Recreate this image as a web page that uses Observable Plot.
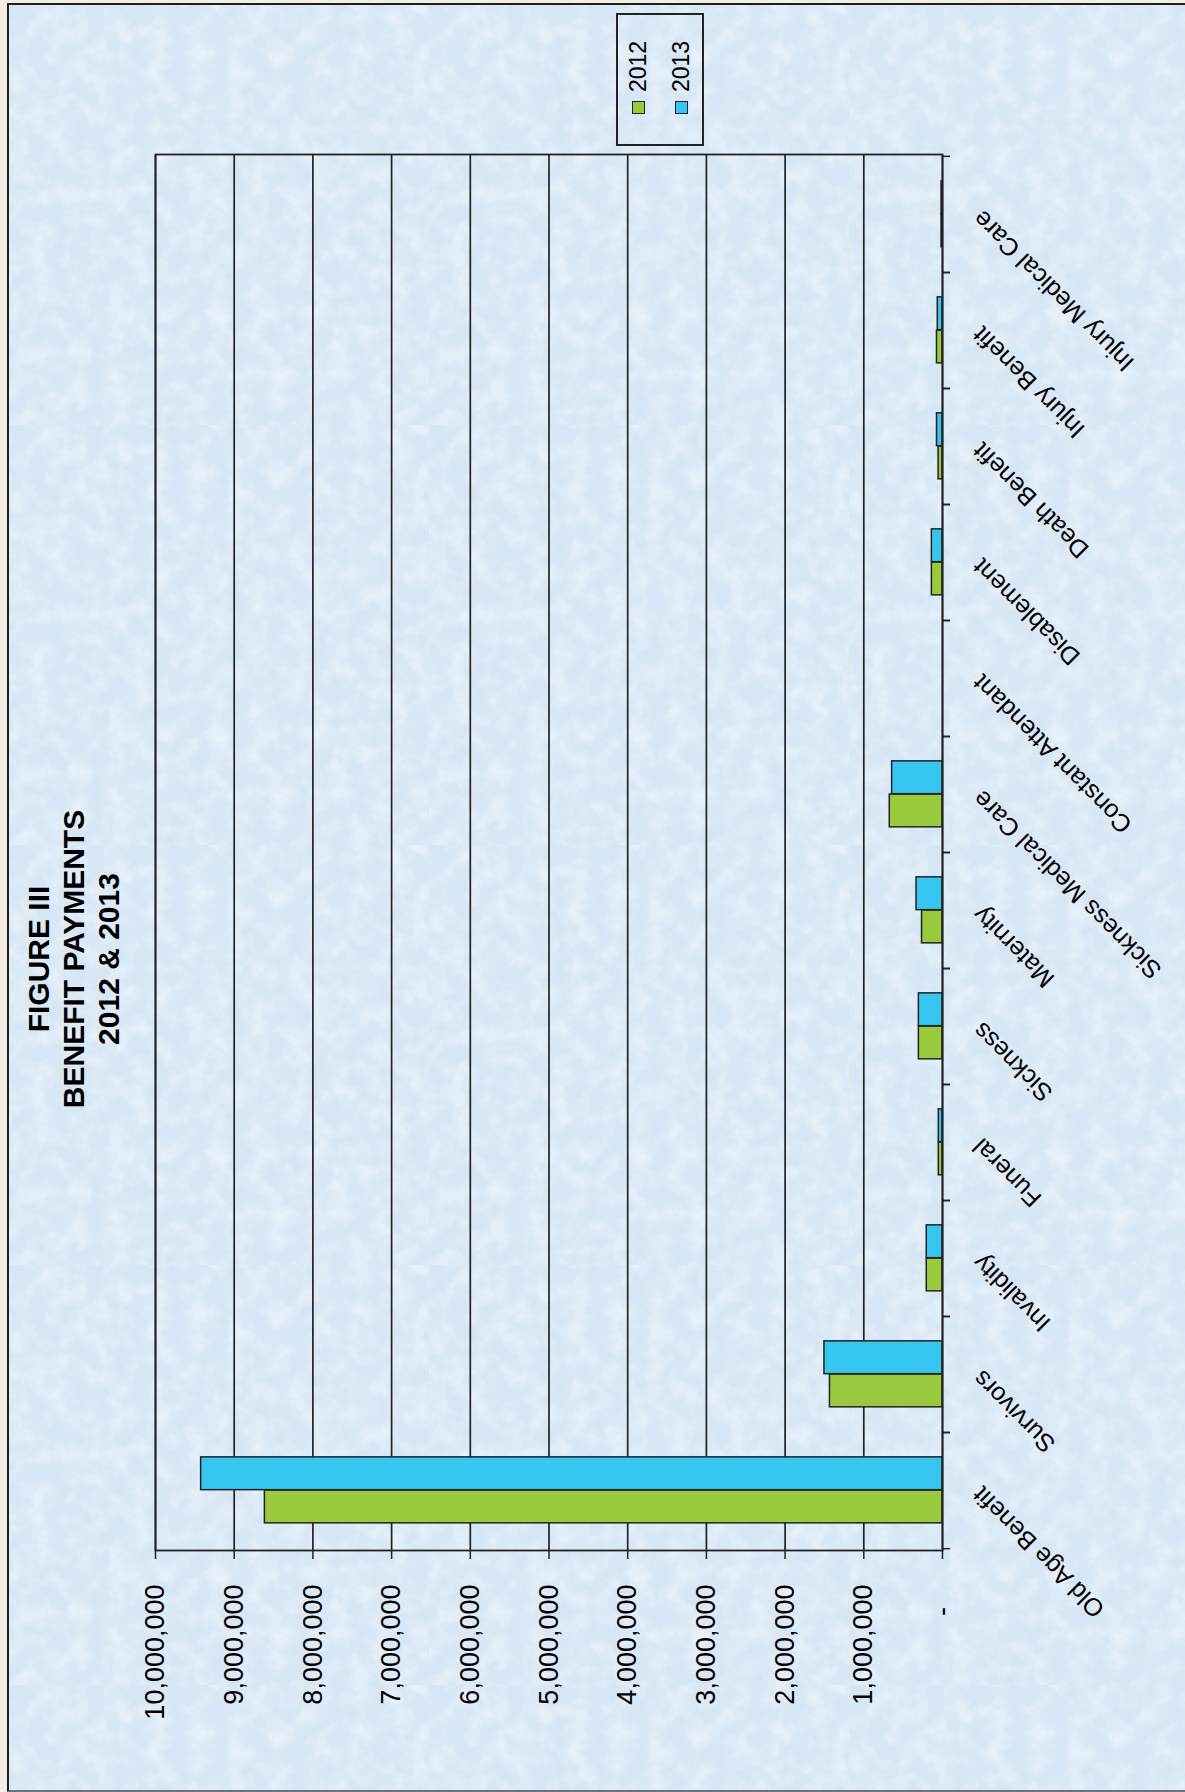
<!DOCTYPE html>
<html>
<head>
<meta charset="utf-8">
<script src="https://cdn.jsdelivr.net/npm/d3@7"></script>
<script src="https://cdn.jsdelivr.net/npm/@observablehq/plot@0.6"></script>
<style>
  html, body { margin: 0; padding: 0; }
  body { width: 1185px; height: 1792px; background: #f2eee2; position: relative; overflow: hidden;
         font-family: "Liberation Sans", Arial, sans-serif; color: #000; }
  #bg { position: absolute; left: 7px; top: 3px; right: 0; bottom: 0;
        background-color: #d6e6f4;
        background-image: url("data:image/svg+xml,%3Csvg xmlns='http://www.w3.org/2000/svg' width='420' height='420'%3E%3Cfilter id='n'%3E%3CfeTurbulence type='fractalNoise' baseFrequency='0.05' numOctaves='4' seed='4'/%3E%3CfeColorMatrix values='0 0 0 0 1 0 0 0 0 1 0 0 0 0 1 0 0 0 0.9 -0.32'/%3E%3C/filter%3E%3Crect width='100%25' height='100%25' filter='url(%23n)'/%3E%3C/svg%3E");
        border-left: 2.5px solid #1e1e1e; border-top: 2.5px solid #1e1e1e;
        border-bottom: 2px solid #6b7380; }
  #chart { position: absolute; left: 0; top: 0; width: 1792px; height: 1185px;
           transform-origin: 0 0; transform: translateY(1792px) rotate(-90deg); }
  #title { position: absolute; top: 21px; left: 0; width: 1666px; text-align: center;
           font: bold 30px/35px "Liberation Sans", Arial, sans-serif; }
  #legend { position: absolute; left: 1646px; top: 616px; width: 129px; height: 84px;
            border: 2px solid #222; }
  .row { position: absolute; left: 30px; height: 24px; display: flex; align-items: center;
         font-size: 23px; }
  .sw { width: 11px; height: 11px; border: 1.2px solid #222; margin-right: 9px; }
  #plot svg { display: block; }
</style>
</head>
<body>
<div id="bg"></div>
<div id="chart">
  <div id="plot"></div>
  <div id="title"></div>
  <div id="legend"></div>
</div>
<script>
const titleLines = ["FIGURE III", "BENEFIT PAYMENTS", "2012 & 2013"];
const categories = ["Old Age Benefit", "Survivors", "Invalidity", "Funeral", "Sickness", "Maternity",
  "Sickness Medical Care", "Constant Attendant", "Disablement", "Death Benefit", "Injury Benefit", "Injury Medical Care"];
const years = ["2012", "2013"];
const values2012 = [8610000, 1430000, 200000, 47000, 300000, 260000, 670000, 0, 135000, 50000, 70000, 12000];
const values2013 = [9420000, 1500000, 200000, 47000, 300000, 330000, 640000, 0, 135000, 70000, 60000, 12000];
const yTickValues = [0, 1000000, 2000000, 3000000, 4000000, 5000000, 6000000, 7000000, 8000000, 9000000, 10000000];
const colors = {"2012": "#99c93c", "2013": "#36c6f0"};

const rows = [];
categories.forEach((c, i) => {
  rows.push({category: c, year: "2012", value: values2012[i]});
  rows.push({category: c, year: "2013", value: values2013[i]});
});

const W = 1792, H = 1185, mL = 241, mR = 155, mT = 155, mB = 243;
const bw = (W - mL - mR) / categories.length;
const fmt = d3.format(",");

const chart = Plot.plot({
  width: W, height: H,
  marginLeft: mL, marginRight: mR, marginTop: mT, marginBottom: mB,
  style: {background: "transparent", fontFamily: "'Liberation Sans', Arial, sans-serif", color: "#000", overflow: "visible"},
  x: {domain: categories, padding: 0, axis: null},
  y: {domain: [0, 10000000], axis: null},
  marks: [
    Plot.gridY(yTickValues, {stroke: "#222", strokeOpacity: 1, strokeWidth: 1.7}),
    Plot.barY(rows.filter(d => d.year === "2012"), {x: "category", y: "value", fill: colors["2012"],
      stroke: "#222", strokeWidth: 1.5, insetLeft: bw * 0.225, insetRight: bw * 0.49}),
    Plot.barY(rows.filter(d => d.year === "2013"), {x: "category", y: "value", fill: colors["2013"],
      stroke: "#222", strokeWidth: 1.5, insetLeft: bw * 0.51, insetRight: bw * 0.205}),
    Plot.frame({stroke: "#222", strokeWidth: 1.8}),
    Plot.axisY({ticks: yTickValues, label: null, tickSize: 8, tickPadding: 26, fontSize: 27, stroke: "#222", strokeWidth: 1.5,
      tickFormat: d => d === 0 ? "-\u00a0\u00a0\u00a0" : fmt(d)}),
    Plot.axisX({label: null, tickSize: 0, tickRotate: -45, tickPadding: 35, fontSize: 25}),
    Plot.axisX({label: null, tickSize: 8, tickFormat: () => "", dx: -bw / 2, stroke: "#222", strokeWidth: 1.5}),
    Plot.axisX({label: null, tickSize: 8, tickFormat: () => "", dx: bw / 2, stroke: "#222", strokeWidth: 1.5})
  ]
});
document.getElementById("plot").appendChild(chart);

const title = document.getElementById("title");
titleLines.forEach(t => { const d = document.createElement("div"); d.textContent = t; title.appendChild(d); });

const legend = document.getElementById("legend");
const rowCenters = [20, 63];
years.forEach((y, i) => {
  const r = document.createElement("div");
  r.className = "row";
  r.style.top = (rowCenters[i] - 12) + "px";
  const sw = document.createElement("div");
  sw.className = "sw";
  sw.style.background = colors[y];
  const tx = document.createElement("span");
  tx.textContent = y;
  r.appendChild(sw); r.appendChild(tx);
  legend.appendChild(r);
});
</script>
</body>
</html>
